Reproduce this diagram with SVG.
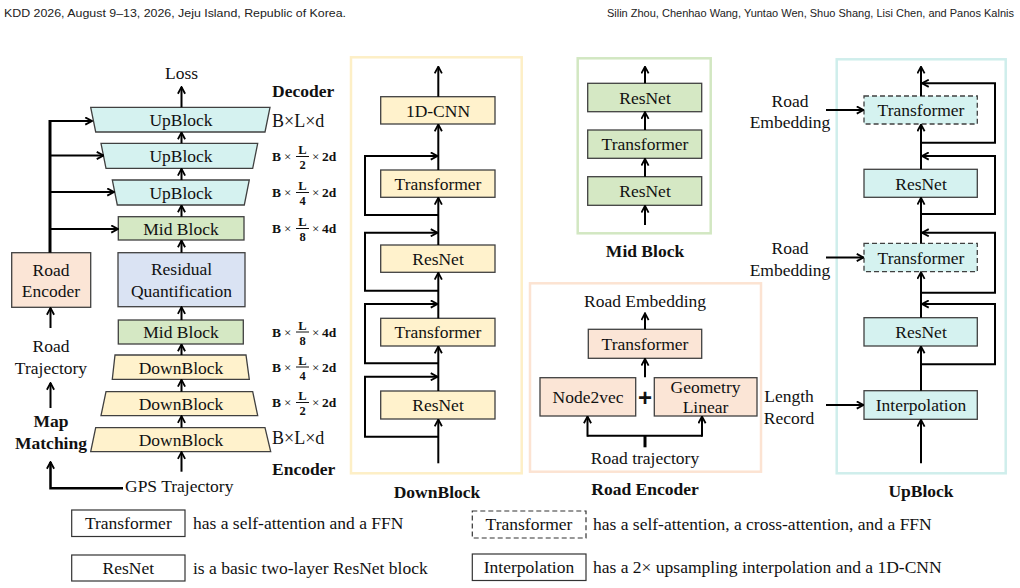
<svg xmlns="http://www.w3.org/2000/svg" width="1020" height="588" viewBox="0 0 1020 588">
<defs>
<marker id="ah" viewBox="0 0 10 10" refX="9" refY="5" markerWidth="9" markerHeight="9" orient="auto" markerUnits="userSpaceOnUse">
<path d="M1.5,1 L9,5 L1.5,9" fill="none" stroke="#000" stroke-width="2"/>
</marker>
</defs>
<style>
text{font-family:"Liberation Serif","Times New Roman",serif;fill:#111;}
.t{font-size:17.5px;text-anchor:middle;}
.tl{font-size:17.5px;}
.b{font-weight:bold;}
.hd{font-family:"Liberation Sans",Arial,sans-serif;font-size:11px;fill:#222;}
.m{font-size:13px;}
.mb{font-size:13.5px;font-weight:bold;}
.mf{font-size:12.5px;font-weight:bold;text-anchor:middle;}
.box{stroke:#404040;stroke-width:1.3;}
.yel{fill:#fff2cc;}
.cy{fill:#d5f2f0;}
.gr{fill:#d5e8c4;}
.pe{fill:#fbe5d6;}
.bl{fill:#dae3f3;}
.dash{stroke-dasharray:5,3;}
.panel{fill:none;stroke-width:2.5;}
.ar{fill:none;stroke:#000;stroke-width:2;marker-end:url(#ah);}
.ln{fill:none;stroke:#000;stroke-width:2;}
.lg{fill:#fff;stroke:#333;stroke-width:1.2;}
</style>

<!-- header -->
<text class="hd" x="4" y="17" textLength="342" lengthAdjust="spacingAndGlyphs">KDD 2026, August 9–13, 2026, Jeju Island, Republic of Korea.</text>
<text class="hd" x="1014" y="17" text-anchor="end">Silin Zhou, Chenhao Wang, Yuntao Wen, Shuo Shang, Lisi Chen, and Panos Kalnis</text>

<!-- ===== Left overview ===== -->
<g id="loss"><text class="t" x="181.5" y="78.5">Loss</text></g>
<g id="decoder-label"><text class="tl b" x="272" y="97">Decoder</text></g>
<g id="encoder-label"><text class="tl b" x="272" y="475">Encoder</text></g>

<g id="upblock1"><polygon class="box cy" points="90.7,107.3 270,107.3 265,132 95.7,132"/><text class="t" x="181" y="126">UpBlock</text></g>
<g id="upblock2"><polygon class="box cy" points="101,143.3 257.7,143.3 252.7,168.3 106,168.3"/><text class="t" x="181" y="162">UpBlock</text></g>
<g id="upblock3"><polygon class="box cy" points="112.3,180 249.3,180 244.3,205 117.3,205"/><text class="t" x="181" y="198.5">UpBlock</text></g>
<g id="midblock-dec"><rect class="box gr" x="118.3" y="216.7" width="125.7" height="23.3"/><text class="t" x="181" y="234.5">Mid Block</text></g>
<g id="residual"><rect class="box bl" x="118" y="252.7" width="127" height="54"/><text class="t" x="181.5" y="275">Residual</text><text class="t" x="181.5" y="297">Quantification</text></g>
<g id="midblock-enc"><rect class="box gr" x="118.3" y="320" width="125" height="24"/><text class="t" x="181" y="338">Mid Block</text></g>
<g id="downblock3"><polygon class="box yel" points="115,355 246,355 249.3,379.3 112.3,379.3"/><text class="t" x="181" y="373.5">DownBlock</text></g>
<g id="downblock2"><polygon class="box yel" points="106,391.7 252.7,391.7 257.7,415.7 101,415.7"/><text class="t" x="181" y="410">DownBlock</text></g>
<g id="downblock1"><polygon class="box yel" points="95.7,427.7 265,427.7 270.7,451.7 90.7,451.7"/><text class="t" x="181" y="446">DownBlock</text></g>

<g id="road-encoder-box"><rect class="box pe" x="11.7" y="252.7" width="79" height="54.6"/><text class="t" x="51" y="275.5">Road</text><text class="t" x="51" y="297">Encoder</text></g>
<g id="road-trajectory"><text class="t" x="51" y="352">Road</text><text class="t" x="51" y="373.5">Trajectory</text></g>
<g id="map-matching"><text class="t b" x="51" y="427">Map</text><text class="t b" x="51" y="448.5">Matching</text></g>
<g id="gps"><text class="tl" x="125" y="492">GPS Trajectory</text></g>

<!-- dimension labels -->
<g id="dims">
<text x="272" y="127" style="font-size:18px">B×L×d</text>
<text x="272" y="444" style="font-size:18px">B×L×d</text>
<g transform="translate(0,156.5)"><text class="mb" x="272" y="4.5">B</text><text class="m" x="284" y="4.5">×</text><text class="mf" x="302.5" y="-2.5">L</text><line x1="296" y1="0" x2="309" y2="0" stroke="#111" stroke-width="1"/><text class="mf" x="302.5" y="12.5">2</text><text class="m" x="312" y="4.5">×</text><text class="mb" x="322" y="4.5">2d</text></g>
<g transform="translate(0,192.5)"><text class="mb" x="272" y="4.5">B</text><text class="m" x="284" y="4.5">×</text><text class="mf" x="302.5" y="-2.5">L</text><line x1="296" y1="0" x2="309" y2="0" stroke="#111" stroke-width="1"/><text class="mf" x="302.5" y="12.5">4</text><text class="m" x="312" y="4.5">×</text><text class="mb" x="322" y="4.5">2d</text></g>
<g transform="translate(0,228.5)"><text class="mb" x="272" y="4.5">B</text><text class="m" x="284" y="4.5">×</text><text class="mf" x="302.5" y="-2.5">L</text><line x1="296" y1="0" x2="309" y2="0" stroke="#111" stroke-width="1"/><text class="mf" x="302.5" y="12.5">8</text><text class="m" x="312" y="4.5">×</text><text class="mb" x="322" y="4.5">4d</text></g>
<g transform="translate(0,332)"><text class="mb" x="272" y="4.5">B</text><text class="m" x="284" y="4.5">×</text><text class="mf" x="302.5" y="-2.5">L</text><line x1="296" y1="0" x2="309" y2="0" stroke="#111" stroke-width="1"/><text class="mf" x="302.5" y="12.5">8</text><text class="m" x="312" y="4.5">×</text><text class="mb" x="322" y="4.5">4d</text></g>
<g transform="translate(0,367)"><text class="mb" x="272" y="4.5">B</text><text class="m" x="284" y="4.5">×</text><text class="mf" x="302.5" y="-2.5">L</text><line x1="296" y1="0" x2="309" y2="0" stroke="#111" stroke-width="1"/><text class="mf" x="302.5" y="12.5">4</text><text class="m" x="312" y="4.5">×</text><text class="mb" x="322" y="4.5">2d</text></g>
<g transform="translate(0,402.5)"><text class="mb" x="272" y="4.5">B</text><text class="m" x="284" y="4.5">×</text><text class="mf" x="302.5" y="-2.5">L</text><line x1="296" y1="0" x2="309" y2="0" stroke="#111" stroke-width="1"/><text class="mf" x="302.5" y="12.5">2</text><text class="m" x="312" y="4.5">×</text><text class="mb" x="322" y="4.5">2d</text></g>
</g>

<!-- ===== DownBlock panel ===== -->
<g id="downblock-panel">
<rect class="panel" x="351" y="57.3" width="170.7" height="416" stroke="#fdefc6"/>
<text class="t b" x="437" y="498">DownBlock</text>
</g>
<g id="db-cnn"><rect class="box yel" x="380.7" y="96.7" width="114.3" height="27.3"/><text class="t" x="438" y="116.5">1D-CNN</text></g>
<g id="db-trans1"><rect class="box yel" x="380.7" y="170" width="114.3" height="27.3"/><text class="t" x="438" y="189.5">Transformer</text></g>
<g id="db-res1"><rect class="box yel" x="380.7" y="245" width="114.3" height="27.3"/><text class="t" x="438" y="264.5">ResNet</text></g>
<g id="db-trans2"><rect class="box yel" x="380.7" y="318.3" width="114.3" height="27.7"/><text class="t" x="438" y="338">Transformer</text></g>
<g id="db-res2"><rect class="box yel" x="380.7" y="391" width="114.3" height="28"/><text class="t" x="438" y="411">ResNet</text></g>

<!-- ===== Mid Block panel ===== -->
<g id="midblock-panel">
<rect class="panel" x="577.7" y="58.3" width="133" height="175" stroke="#d2e7c2"/>
<text class="t b" x="645" y="257">Mid Block</text>
</g>
<g id="mb-res1"><rect class="box gr" x="587.7" y="83.3" width="114" height="28.4"/><text class="t" x="645" y="103.5">ResNet</text></g>
<g id="mb-trans"><rect class="box gr" x="587.7" y="130" width="114" height="28.3"/><text class="t" x="645" y="150">Transformer</text></g>
<g id="mb-res2"><rect class="box gr" x="587.7" y="176.7" width="114" height="28.6"/><text class="t" x="645" y="197">ResNet</text></g>

<!-- ===== Road Encoder panel ===== -->
<g id="roadenc-panel">
<rect class="panel" x="530" y="283.3" width="231" height="188.4" stroke="#fce3d2"/>
<text class="t b" x="645" y="495">Road Encoder</text>
<text class="t" x="645" y="306.5">Road Embedding</text>
<text class="t" x="645" y="463.5">Road trajectory</text>
<text x="645" y="406" style="font-size:24px;font-weight:bold;text-anchor:middle;font-family:'Liberation Sans',Arial,sans-serif">+</text>
</g>
<g id="re-trans"><rect class="box pe" x="588.3" y="329.3" width="113.4" height="29"/><text class="t" x="645" y="349.5">Transformer</text></g>
<g id="re-node2vec"><rect class="box pe" x="540" y="377.7" width="95.7" height="38.3"/><text class="t" x="588" y="403">Node2vec</text></g>
<g id="re-geom"><rect class="box pe" x="654.3" y="377.7" width="102.7" height="38.3"/><text class="t" x="705.5" y="392.5">Geometry</text><text class="t" x="705.5" y="413">Linear</text></g>

<!-- ===== UpBlock panel ===== -->
<g id="upblock-panel">
<rect class="panel" x="836.7" y="59.3" width="169" height="414" stroke="#cfeeec"/>
<text class="t b" x="921" y="497">UpBlock</text>
<text class="t" x="790" y="106.7">Road</text><text class="t" x="790" y="128.3">Embedding</text>
<text class="t" x="790" y="254">Road</text><text class="t" x="790" y="275.8">Embedding</text>
<text class="t" x="789" y="402.3">Length</text><text class="t" x="789" y="424">Record</text>
</g>
<g id="ub-trans1"><rect class="box cy dash" x="864" y="96" width="113.3" height="28"/><text class="t" x="921" y="116">Transformer</text></g>
<g id="ub-res1"><rect class="box cy" x="864" y="169.3" width="113.3" height="28"/><text class="t" x="921" y="189.5">ResNet</text></g>
<g id="ub-trans2"><rect class="box cy dash" x="864" y="243.3" width="113.3" height="28.4"/><text class="t" x="921" y="263.5">Transformer</text></g>
<g id="ub-res2"><rect class="box cy" x="864" y="317.7" width="113.3" height="28.3"/><text class="t" x="921" y="338">ResNet</text></g>
<g id="ub-interp"><rect class="box cy" x="864" y="390.7" width="113.3" height="28.6"/><text class="t" x="921" y="411">Interpolation</text></g>

<!-- ===== Connectors ===== -->
<g id="connectors">
<line class="ar" x1="181.5" y1="107.3" x2="181.5" y2="87"/>
<line class="ar" x1="181.5" y1="143.3" x2="181.5" y2="132.5"/>
<line class="ar" x1="181.5" y1="180" x2="181.5" y2="168.8"/>
<line class="ar" x1="181.5" y1="216.7" x2="181.5" y2="205.5"/>
<line class="ar" x1="181.5" y1="252.7" x2="181.5" y2="240.5"/>
<line class="ar" x1="181.5" y1="320" x2="181.5" y2="307.2"/>
<line class="ar" x1="181.5" y1="355" x2="181.5" y2="344.5"/>
<line class="ar" x1="181.5" y1="391.7" x2="181.5" y2="379.8"/>
<line class="ar" x1="181.5" y1="427.7" x2="181.5" y2="416.2"/>
<line class="ar" x1="181.5" y1="471.7" x2="181.5" y2="452.2"/>
<polyline class="ln" points="50,252.7 50,120" style="stroke-width:3"/>
<line class="ar" x1="49" y1="121" x2="92" y2="121"/>
<line class="ar" x1="50" y1="155.5" x2="103.5" y2="155.5"/>
<line class="ar" x1="50" y1="192" x2="114" y2="192"/>
<line class="ar" x1="50" y1="229" x2="118" y2="229"/>
<line class="ar" x1="50.5" y1="328" x2="50.5" y2="308"/>
<line class="ar" x1="50.5" y1="408" x2="50.5" y2="383"/>
<polyline class="ar" points="123,488.3 50.5,488.3 50.5,462" style="stroke-width:2.5"/>

<line class="ar" x1="438.3" y1="96.7" x2="438.3" y2="66.7"/>
<line class="ar" x1="438.3" y1="170" x2="438.3" y2="124.5"/>
<line class="ar" x1="438.3" y1="245" x2="438.3" y2="197.8"/>
<line class="ar" x1="438.3" y1="318.3" x2="438.3" y2="272.8"/>
<line class="ar" x1="438.3" y1="391" x2="438.3" y2="346.5"/>
<line class="ar" x1="438.3" y1="463.3" x2="438.3" y2="419.5"/>
<polyline class="ar" points="438.3,436.7 365,436.7 365,376.7 437.5,376.7"/>
<polyline class="ar" points="438.3,363.3 365,363.3 365,304 437.5,304"/>
<polyline class="ar" points="438.3,290.7 365,290.7 365,232.7 437.5,232.7"/>
<polyline class="ar" points="438.3,215 365,215 365,156 437.5,156"/>

<line class="ar" x1="645" y1="83.3" x2="645" y2="66.7"/>
<line class="ar" x1="645" y1="130" x2="645" y2="112.2"/>
<line class="ar" x1="645" y1="176.7" x2="645" y2="158.8"/>
<line class="ar" x1="645" y1="225" x2="645" y2="205.8"/>

<line class="ar" x1="645" y1="329.3" x2="645" y2="313.3"/>
<line class="ar" x1="645" y1="377.3" x2="645" y2="358.8"/>
<line class="ln" x1="645" y1="447.3" x2="645" y2="435.7" style="stroke-width:3"/>
<polyline class="ln" points="587.3,435.7 702,435.7"/>
<line class="ar" x1="587.5" y1="436.7" x2="587.5" y2="416.5"/>
<line class="ar" x1="702" y1="436.7" x2="702" y2="416.5"/>

<line class="ar" x1="921" y1="96" x2="921" y2="66.7"/>
<line class="ar" x1="921" y1="169.3" x2="921" y2="124.5"/>
<line class="ar" x1="921" y1="243.3" x2="921" y2="197.8"/>
<line class="ar" x1="921" y1="317.7" x2="921" y2="272.2"/>
<line class="ar" x1="921" y1="390.7" x2="921" y2="346.5"/>
<line class="ar" x1="921" y1="463.3" x2="921" y2="419.8"/>
<polyline class="ar" points="921,142.7 995,142.7 995,83.3 922,83.3"/>
<polyline class="ar" points="921,214 995,214 995,156 922,156"/>
<polyline class="ar" points="921,292.7 995,292.7 995,232.7 922,232.7"/>
<polyline class="ar" points="921,364.3 995,364.3 995,304 922,304"/>
<line class="ar" x1="826" y1="110" x2="863.5" y2="110"/>
<line class="ar" x1="826" y1="257.5" x2="863.5" y2="257.5"/>
<line class="ar" x1="826" y1="405" x2="863.5" y2="405"/>
</g>

<!-- ===== Legend ===== -->
<g id="legend-transformer"><rect class="lg" x="71.7" y="510" width="113.3" height="26.5"/><text class="t" x="128.3" y="529">Transformer</text><text class="tl" x="193" y="529">has a self-attention and a FFN</text></g>
<g id="legend-resnet"><rect class="lg" x="71.7" y="555" width="113.3" height="26"/><text class="t" x="128.3" y="573.5">ResNet</text><text class="tl" x="193" y="573.5">is a basic two-layer ResNet block</text></g>
<g id="legend-crosstrans"><rect class="lg dash" x="472.3" y="511" width="113.7" height="27"/><text class="t" x="529" y="530">Transformer</text><text class="tl" x="593" y="530">has a self-attention, a cross-attention, and a FFN</text></g>
<g id="legend-interp"><rect class="lg" x="472.3" y="554" width="113.7" height="26.5"/><text class="t" x="529" y="573">Interpolation</text><text class="tl" x="593" y="573">has a 2× upsampling interpolation and a 1D-CNN</text></g>
</svg>
